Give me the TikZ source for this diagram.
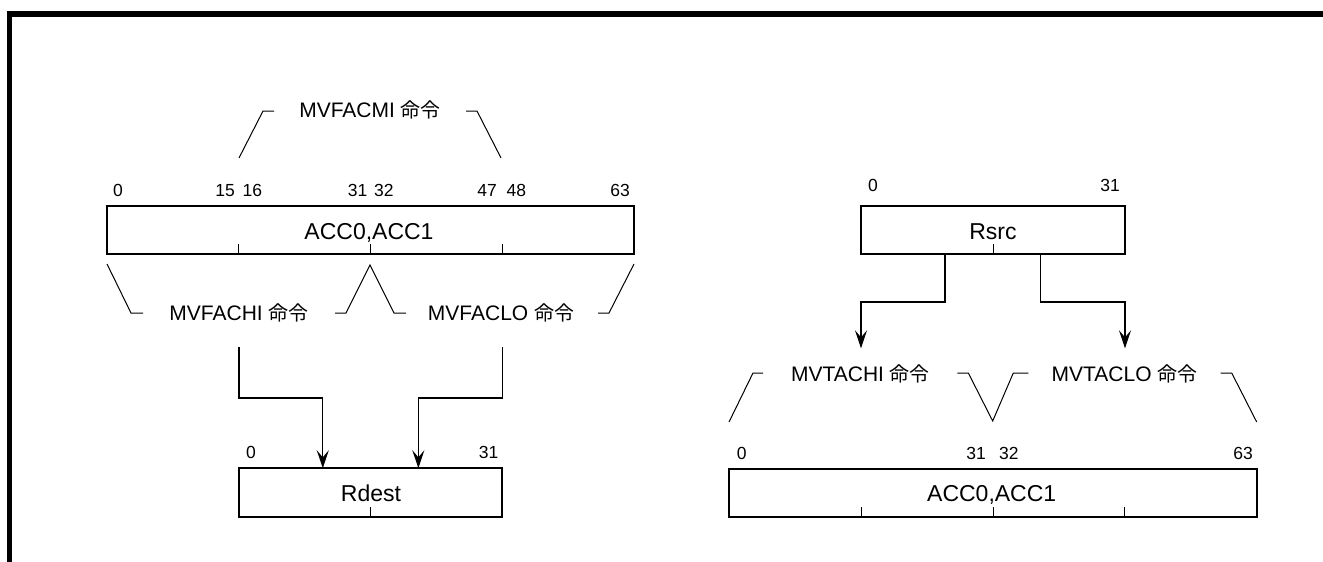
\documentclass[tikz,border=0pt]{standalone}
\usepackage{fontspec}
\setmainfont{Liberation Sans}
\newfontfamily\cjk[Scale=0.95]{Noto Sans CJK JP}
\usetikzlibrary{arrows.meta,calc}
\begin{document}
\begin{tikzpicture}[x=1pt,y=-1pt,
  regbox/.style={draw,line width=2pt,inner sep=0pt,outer sep=0pt,minimum height=48pt},
  numlbl/.style={inner sep=0pt,font=\fontsize{17.5}{17.5}\selectfont},
  boxtxt/.style={inner sep=0pt,font=\fontsize{23}{23}\selectfont,anchor=base},
  instr/.style={inner sep=0pt,font=\fontsize{21}{21}\selectfont,anchor=base},
  conn/.style={line width=1.3pt,-{Stealth[length=18pt,width=12pt,inset=7pt]}},
  brk/.style={line width=1pt},
  tickln/.style={line width=1pt},
  frameln/.style={line width=5.5pt,line cap=butt,line join=miter}]
\useasboundingbox (0,0) rectangle (1323,562);
% frame
\draw[frameln] (9.7,562) -- (9.7,13.8) -- (1323,13.8);

% ---------- left part ----------
\node[regbox,minimum width=527pt] (accL) at (370.5,230) {};
\node[boxtxt] (accLt) at (369,239.3) {ACC0,ACC1};
\foreach \f in {0.25,0.5,0.75}
  \draw[tickln] ($(accL.south west)!\f!(accL.south east)$) -- ++(0,-10);
\node[numlbl,anchor=base west] (nL0) at (113,196) {0};
\node[numlbl,anchor=base east] (nL15) at (235,196) {15};
\node[numlbl,anchor=base west] (nL16) at (242.5,196) {16};
\node[numlbl,anchor=base east] (nL31) at (367.5,196) {31};
\node[numlbl,anchor=base west] (nL32) at (374,196) {32};
\node[numlbl,anchor=base east] (nL47) at (497,196) {47};
\node[numlbl,anchor=base west] (nL48) at (506.5,196) {48};
\node[numlbl,anchor=base east] (nL63) at (630,196) {63};

\node[instr] (mi) at (370,117.5) {MVFACMI {\cjk 命令}};
\draw[brk] (239,158) -- (263,111) -- (274,111);
\draw[brk] (466,111) -- (477,111) -- (501,158);

\node[instr] (hi) at (239,320.5) {MVFACHI {\cjk 命令}};
\node[instr] (lo) at (501,320.5) {MVFACLO {\cjk 命令}};
\draw[brk] (107,264) -- (131,313) -- (143,313);
\draw[brk] (335,313) -- (346,313) -- (370,265) -- (394,313) -- (406,313);
\draw[brk] (598,313) -- (609,313) -- (634,264);

\node[regbox,minimum width=263.3pt,minimum height=49pt] (rdest) at (370.7,492.8) {};
\node[boxtxt] (rdestt) at (371,501.7) {Rdest};
\draw[tickln] (rdest.south) -- ++(0,-10);
\node[numlbl,anchor=base west] (nD0) at (246,458) {0};
\node[numlbl,anchor=base east] (nD31) at (498.5,458) {31};

\coordinate (hiOut) at (239,347);
\coordinate (loOut) at (502.3,347);
\coordinate (rdIn1) at ($(rdest.north west)!0.318!(rdest.north east)$);
\coordinate (rdIn2) at ($(rdest.north west)!0.681!(rdest.north east)$);
\draw[conn] (hiOut) |- (rdIn1 |- 0,398) -- (rdIn1);
\draw[conn] (loOut) |- (rdIn2 |- 0,398) -- (rdIn2);

% ---------- right part ----------
\node[regbox,minimum width=264pt] (rsrc) at (993,230.2) {};
\node[boxtxt] (rsrct) at (993,239.3) {Rsrc};
\draw[tickln] (rsrc.south) -- ++(0,-10);
\node[numlbl,anchor=base west] (nS0) at (868,191) {0};
\node[numlbl,anchor=base east] (nS31) at (1120,191) {31};

\node[instr] (thi) at (860.4,381.7) {MVTACHI {\cjk 命令}};
\node[instr] (tlo) at (1124.5,381.7) {MVTACLO {\cjk 命令}};
\coordinate (thiIn) at (861,348.3);
\coordinate (tloIn) at (1125,348.3);
\coordinate (rsOut1) at ($(rsrc.south west)!0.318!(rsrc.south east)$);
\coordinate (rsOut2) at ($(rsrc.south west)!0.681!(rsrc.south east)$);
\draw[conn] (rsOut1) |- (thiIn |- 0,302) -- (thiIn);
\draw[conn] (rsOut2) |- (tloIn |- 0,302) -- (tloIn);

\draw[brk] (763,373) -- (753,373) -- (729,422);
\draw[brk] (957.3,373) -- (968.3,373) -- (992.7,421) -- (1013.3,373) -- (1028.3,373);
\draw[brk] (1220.7,373) -- (1231.7,373) -- (1256.7,422);

\node[regbox,minimum width=527.4pt] (accR) at (993,493) {};
\node[boxtxt] (accRt) at (991.7,501.7) {ACC0,ACC1};
\foreach \f in {0.25,0.5,0.75}
  \draw[tickln] ($(accR.south west)!\f!(accR.south east)$) -- ++(0,-10);
\node[numlbl,anchor=base west] (nR0) at (736.7,459.3) {0};
\node[numlbl,anchor=base east] (nR31) at (986,459.3) {31};
\node[numlbl,anchor=base west] (nR32) at (999,459.3) {32};
\node[numlbl,anchor=base east] (nR63) at (1253,459.3) {63};
\end{tikzpicture}
\end{document}
